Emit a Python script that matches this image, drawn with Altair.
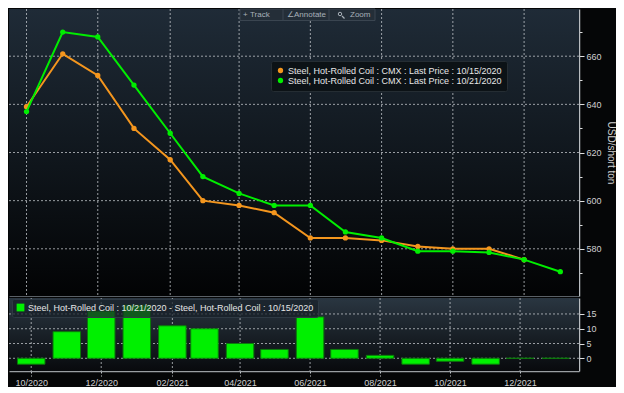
import altair as alt
import pandas as pd

# ---------------- data ----------------
months = ["2020-10", "2020-11", "2020-12", "2021-01", "2021-02", "2021-03", "2021-04",
          "2021-05", "2021-06", "2021-07", "2021-08", "2021-09", "2021-10", "2021-11",
          "2021-12", "2022-01"]
hrc_1015 = [639, 661, 652, 630, 617, 600, 598, 595, 584.5, 584.5, 583.5, 581, 580, 580, 575.5]
hrc_1021 = [637, 670, 668, 648, 628, 610, 603, 598, 598, 587, 584.5, 579, 579, 578.5, 575.5, 570.5]
spread = [-2, 9, 16, 18, 11, 10, 5, 3, 14, 3, 1, -2, -1, -2, 0, 0]
tick_months = ["2020-10", "2020-12", "2021-02", "2021-04", "2021-06", "2021-08", "2021-10", "2021-12"]
price_grid = [580, 600, 620, 640, 660]
price_ticks = [570, 580, 590, 600, 610, 620, 630, 640, 650, 660, 670]
spread_grid = [0, 5, 10, 15]

L1 = "Steel, Hot-Rolled Coil : CMX : Last Price : 10/15/2020"
L2 = "Steel, Hot-Rolled Coil : CMX : Last Price : 10/21/2020"
LB = "Steel, Hot-Rolled Coil : 10/21/2020 - Steel, Hot-Rolled Coil : 10/15/2020"
ORANGE = "#f4961e"
GREEN = "#00ee00"


def d(m):
    return m.replace("-", "/") + "/01"


rows = []
for m, v in zip(months, hrc_1015):
    rows.append({"date": d(m), "series": L1, "price": v})
for m, v in zip(months, hrc_1021):
    rows.append({"date": d(m), "series": L2, "price": v})
df = pd.DataFrame(rows)
bars = pd.DataFrame({"date": [d(m) for m in months], "spread": spread, "label": LB})
vgrid = pd.DataFrame({"date": [d(m) for m in tick_months]})
hgrid = pd.DataFrame({"price": price_grid})
bgrid = pd.DataFrame({"spread": spread_grid})

W, H1, H2 = 570, 287, 73
FONT = "Liberation Sans"

tick_vals = [alt.DateTime(year=int(m[:4]), month=int(m[5:]), date=1) for m in tick_months]
xdom = [alt.DateTime(year=2020, month=9, date=16), alt.DateTime(year=2022, month=1, date=17)]
xscale = alt.Scale(domain=xdom)

GRID = dict(color="#c8ccd0", strokeDash=[2, 2], strokeWidth=1, opacity=0.75)


def grad(top, bottom):
    return alt.Gradient(gradient="linear",
                        stops=[alt.GradientStop(color=top, offset=0),
                               alt.GradientStop(color=bottom, offset=1)],
                        x1=0, x2=0, y1=0, y2=1)


one = alt.Data(values=[{}])

# ---------------- main panel ----------------
bg1 = alt.Chart(one).mark_rect(fill=grad("#1f2b37", "#020304")).encode(
    x=alt.value(0), x2=alt.value(W), y=alt.value(0), y2=alt.value(H1))

xaxis_main = alt.Axis(values=tick_vals, grid=False, labels=False, ticks=False,
                      domain=True, domainColor="#5a6066", title=None)
yaxis_main = alt.Axis(orient="right", values=price_ticks, grid=False,
                      labelExpr="datum.value % 20 == 0 ? datum.label : ''",
                      tickSize={"condition": {"test": "datum.value % 20 == 0", "value": 5}, "value": 3},
                      tickColor="#e0e0e0", domainColor="#b8bcc0", domainWidth=1.5,
                      labelColor="#d0d0d0", labelFontSize=9, labelPadding=2,
                      title="USD/short ton", titleColor="#d0d0d0", titleFontSize=10,
                      titleFontWeight="normal", titlePadding=4)

vg1 = alt.Chart(vgrid).mark_rule(**GRID).encode(
    x=alt.X("date:T", scale=xscale, axis=xaxis_main), y=alt.value(0), y2=alt.value(H1))
hg1 = alt.Chart(hgrid).mark_rule(**GRID).encode(
    y=alt.Y("price:Q", scale=alt.Scale(domain=[560.4, 679.6]), axis=yaxis_main),
    x=alt.value(0), x2=alt.value(W))

color = alt.Color("series:N",
                  scale=alt.Scale(domain=[L1, L2], range=[ORANGE, GREEN]),
                  legend=alt.Legend(orient="none", legendX=262, legendY=52, title=None,
                                    fillColor="#0c1216", strokeColor="#252d33",
                                    padding=5, labelFontSize=9, labelColor="#e6e6e6",
                                    symbolType="circle", symbolSize=28, rowPadding=0,
                                    labelLimit=400, cornerRadius=2, symbolStrokeWidth=0,
                                    labelOffset=3))

base = alt.Chart(df).encode(
    x=alt.X("date:T", scale=xscale, axis=xaxis_main),
    y=alt.Y("price:Q", scale=alt.Scale(domain=[560.4, 679.6]), axis=yaxis_main),
    color=color)

layers = []
for s in [L1, L2]:
    sub = base.transform_filter(alt.datum.series == s)
    layers.append(sub.mark_line(strokeWidth=2))
    layers.append(sub.mark_point(filled=True, size=28, opacity=1))

# toolbar decoration
tb = alt.Chart(one).mark_rect(fill="#242e38", stroke="#3a4550", strokeWidth=1).encode(
    x=alt.value(231), x2=alt.value(366), y=alt.value(0), y2=alt.value(11.5))
tbdiv = alt.Chart(alt.Data(values=[{"p": 274}, {"p": 320}])).mark_rule(color="#3a4550").encode(
    x=alt.X("p:Q", scale=None), y=alt.value(0), y2=alt.value(11.5))
tbtext = alt.Chart(alt.Data(values=[{"p": 234, "t": "+"},
                                    {"p": 241, "t": "Track"},
                                    {"p": 278, "t": "∠"},
                                    {"p": 285, "t": "Annotate"},
                                    {"p": 341, "t": "Zoom"}])).mark_text(
    align="left", baseline="middle", fontSize=8, color="#a8b0b8", font=FONT).encode(
    x=alt.X("p:Q", scale=None), y=alt.value(6), text="t:N")
# magnifier icon
mag = alt.Chart(one).mark_point(shape="circle", size=12, filled=False, color="#a8b0b8",
                                strokeWidth=1, opacity=1).encode(
    x=alt.value(331), y=alt.value(5))
magh = alt.Chart(one).mark_rule(color="#a8b0b8", strokeWidth=1.2).encode(
    x=alt.value(333), x2=alt.value(335.5), y=alt.value(7), y2=alt.value(9.5))

main = alt.layer(bg1, vg1, hg1, *layers, tb, tbdiv, tbtext, mag, magh).properties(width=W, height=H1)

# ---------------- lower panel ----------------
bg2 = alt.Chart(one).mark_rect(fill=grad("#2a3641", "#080a0d")).encode(
    x=alt.value(0), x2=alt.value(W), y=alt.value(0), y2=alt.value(H2))

xaxis_low = alt.Axis(values=tick_vals, grid=False, format="%m/%Y", labelColor="#d0d0d0",
                     labelFontSize=9, labelPadding=2, tickColor="#c8ccd0", tickDash=[2, 2],
                     tickSize=5, domainColor="#9a9ea2", domainWidth=1.5, title=None,
                     labelFlush=False)
yaxis_low = alt.Axis(orient="right", values=spread_grid, grid=False, tickColor="#e0e0e0",
                     tickSize=5, domainColor="#b8bcc0", domainWidth=1.5,
                     labelColor="#d0d0d0", labelFontSize=9, labelPadding=2, title=None)
yscale_low = alt.Scale(domain=[-4.3, 20.4])

vg2 = alt.Chart(vgrid).mark_rule(**GRID).encode(
    x=alt.X("date:T", scale=xscale, axis=xaxis_low), y=alt.value(0), y2=alt.value(H2))
hg2 = alt.Chart(bgrid).mark_rule(**GRID).encode(
    y=alt.Y("spread:Q", scale=yscale_low, axis=yaxis_low), x=alt.value(0), x2=alt.value(W))

barchart = alt.Chart(bars).mark_bar(size=27.5, stroke="#0b7a0b", strokeWidth=1).encode(
    x=alt.X("date:T", scale=xscale, axis=xaxis_low),
    y=alt.Y("spread:Q", scale=yscale_low, axis=yaxis_low),
    color=alt.Color("label:N", scale=alt.Scale(domain=[LB], range=["#00f000"]),
                    legend=alt.Legend(orient="none", legendX=3, legendY=1, title=None,
                                      fillColor="rgba(24,32,40,0.72)", strokeColor="#2f3a44",
                                      padding=4, labelFontSize=9, labelColor="#e6e6e6",
                                      symbolType="square", symbolSize=60, labelLimit=400,
                                      cornerRadius=2, symbolStrokeWidth=0, labelOffset=3)))

lower = alt.layer(bg2, vg2, hg2, barchart).properties(width=W, height=H2)

chart = alt.vconcat(main, lower, spacing=0).resolve_scale(
    color="independent", y="independent").configure(
    background="#050607", padding=0, font=FONT).configure_view(stroke=None)

chart.save("out.html", embed_options={"renderer": "svg", "actions": False})
